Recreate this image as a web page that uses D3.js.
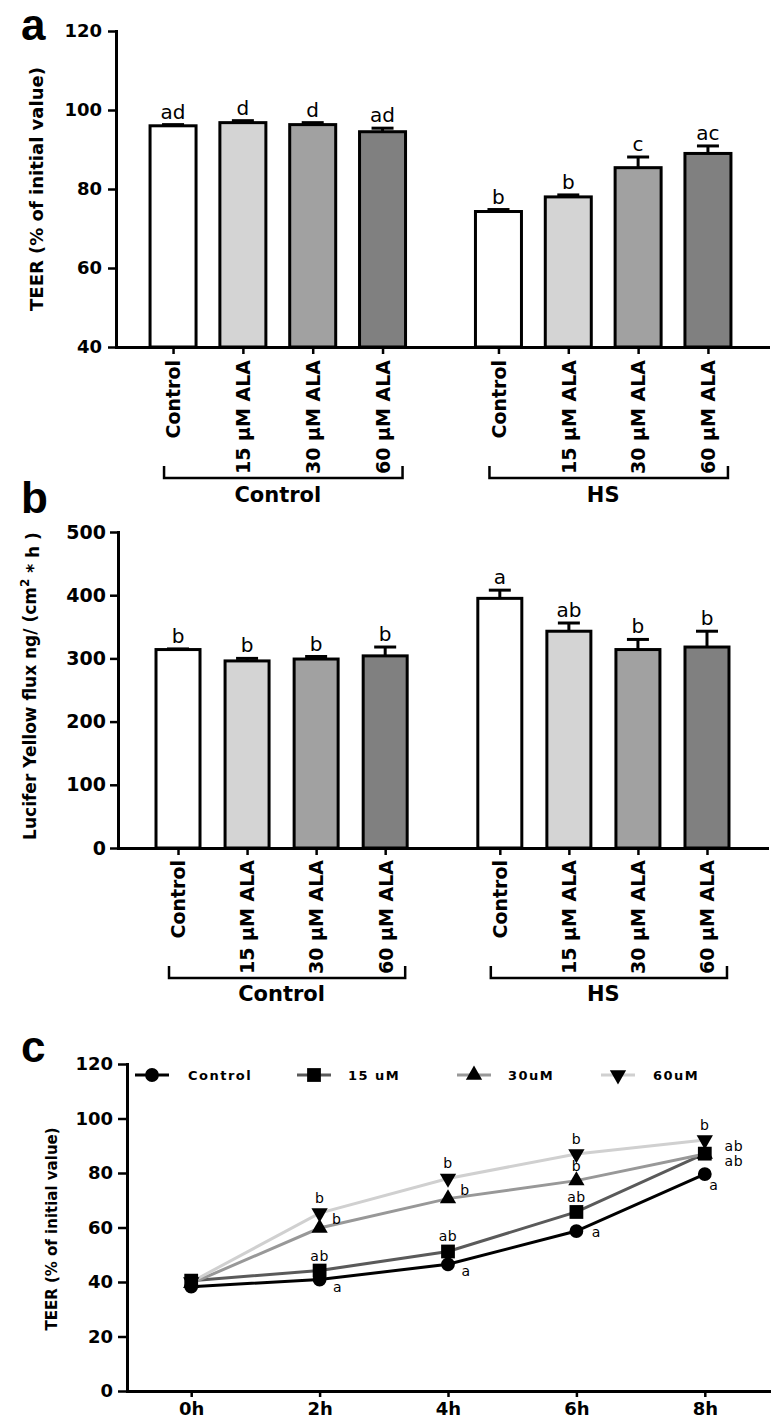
<!DOCTYPE html>
<html><head><meta charset="utf-8">
<script src="https://cdn.jsdelivr.net/npm/d3@7"></script>
<style>
html,body{margin:0;padding:0;background:#fff;}
svg{display:block;}
</style></head><body>
<svg id="chart" width="774" height="1423"></svg>
<script>
// ---------------- DATA ----------------
const groups = ["Control", "HS"];
const treatments = ["Control", "15 µM ALA", "30 µM ALA", "60 µM ALA"];

// panel a: TEER (% of initial value)
const teerMean = [96.0, 96.8, 96.3, 94.5, 74.3, 78.0, 85.4, 89.0];
const teerErr  = [0.3, 0.5, 0.5, 0.9, 0.5, 0.5, 2.7, 1.9];
const teerLetters = ["ad", "d", "d", "ad", "b", "b", "c", "ac"];
const teerTicks = [40, 60, 80, 100, 120];

// panel b: Lucifer Yellow flux
const lyMean = [314, 296, 299, 304, 395, 343, 314, 318];
const lyErr  = [1, 4, 4, 14, 13, 13, 16, 25];
const lyLetters = ["b", "b", "b", "b", "a", "ab", "b", "b"];
const lyTicks = [0, 100, 200, 300, 400, 500];

// panel c: TEER over time
const hours = [0, 2, 4, 6, 8];
const hourLabels = ["0h", "2h", "4h", "6h", "8h"];
const seriesNames = ["Control", "15 uM", "30uM", "60uM"];
const ctrlTeer = [38.3, 40.9, 46.5, 58.7, 79.6];
const um15Teer = [40.5, 44.2, 51.2, 65.7, 87.1];
const um30Teer = [39.5, 59.8, 70.6, 77.2, 87.0];
const um60Teer = [40.0, 65.3, 78.0, 87.0, 92.1];
const ctrlLetters = ["", "a", "a", "a", "a"];
const um15Letters = ["", "ab", "ab", "ab", "ab"];
const um30Letters = ["", "b", "b", "b", "ab"];
const um60Letters = ["", "b", "b", "b", "b"];
const timeTicks = [0, 20, 40, 60, 80, 100, 120];

// ---------------- STYLE / LAYOUT ----------------
const barFills = ["#ffffff", "#d4d4d4", "#a1a1a1", "#808080"];
const lineColors = ["#000000", "#5a5a5a", "#989898", "#d0d0d0"];
const symbolTypes = ["circle", "square", "triangle", "triangleDown"];
const letterPos = [
  ["", "rb", "rb", "r", "b"],
  ["", "t", "t", "t", "rlo"],
  ["", "ur", "ur", "t", "rhi"],
  ["", "t", "t", "t", "t"]
];
const posOffset = {t:[0,-15], rb:[18,7], r:[20,1], b:[9,11], ur:[17,-9], rlo:[29,7], rhi:[29,-8]};

const BOLD = "'DejaVu Sans', sans-serif";
const svg = d3.select("#chart");
const GAP = 0.66;

function styleAxis(sel, fs) {
  sel.select(".domain").attr("stroke", "#000").attr("stroke-width", 3).attr("stroke-linecap", "square");
  sel.selectAll(".tick line").attr("stroke", "#000").attr("stroke-width", 2.5);
  sel.selectAll(".tick text").attr("fill", "#000").style("font-family", BOLD)
     .style("font-weight", "bold").style("font-size", fs + "px");
}

function drawBars(cfg) {
  const g = svg.append("g");
  const x = d3.scaleLinear().domain(cfg.slotDomain).range([cfg.x0, cfg.x1]);
  const y = d3.scaleLinear().domain(cfg.yDomain).range([cfg.yBottom, cfg.yTop]);
  const slots = cfg.means.map((d, i) => (i % 4) + Math.floor(i / 4) * (4 + GAP));

  g.selectAll("rect.bar").data(cfg.means).join("rect").attr("class", "bar")
    .attr("x", (d, i) => x(slots[i]) - cfg.barW / 2)
    .attr("y", d => y(d))
    .attr("width", cfg.barW)
    .attr("height", d => y(cfg.yDomain[0]) - y(d))
    .attr("fill", (d, i) => barFills[i % 4])
    .attr("stroke", "#000").attr("stroke-width", 3);

  const eb = g.selectAll("g.err").data(cfg.means).join("g").attr("class", "err");
  eb.append("line")
    .attr("x1", (d, i) => x(slots[i])).attr("x2", (d, i) => x(slots[i]))
    .attr("y1", d => y(d)).attr("y2", (d, i) => y(d + cfg.errs[i]))
    .attr("stroke", "#000").attr("stroke-width", 3);
  eb.append("line")
    .attr("x1", (d, i) => x(slots[i]) - 11).attr("x2", (d, i) => x(slots[i]) + 11)
    .attr("y1", (d, i) => y(d + cfg.errs[i])).attr("y2", (d, i) => y(d + cfg.errs[i]))
    .attr("stroke", "#000").attr("stroke-width", 3);

  g.selectAll("text.sig").data(cfg.letters).join("text").attr("class", "sig")
    .attr("x", (d, i) => x(slots[i]))
    .attr("y", (d, i) => y(cfg.means[i] + cfg.errs[i]) - 6)
    .attr("text-anchor", "middle")
    .style("font-family", "'DejaVu Sans', sans-serif").style("font-size", "20px")
    .text(d => d);

  const ya = g.append("g").attr("transform", `translate(${cfg.x0},0)`)
    .call(d3.axisLeft(y).tickValues(cfg.ticks).tickSize(8).tickSizeOuter(0).tickPadding(cfg.yPad));
  styleAxis(ya, cfg.yFont);

  const xa = g.append("g").attr("transform", `translate(0,${cfg.yBottom})`)
    .call(d3.axisBottom(x).tickValues(slots).tickFormat((d, i) => treatments[i % 4]).tickSize(7).tickSizeOuter(0));
  styleAxis(xa, 19);
  xa.selectAll(".tick text")
    .attr("transform", "rotate(-90)")
    .attr("text-anchor", "end")
    .attr("x", -cfg.labelGap).attr("y", 0).attr("dy", "0.36em");

  groups.forEach((grp, gi) => {
    const xs = slots.slice(gi * 4, gi * 4 + 4).map(x);
    const l = xs[0] - 9, r = xs[3] + 20;
    g.append("path")
      .attr("d", `M${l},${cfg.bracketTop}V${cfg.bracketBottom}H${r}V${cfg.bracketTop}`)
      .attr("fill", "none").attr("stroke", "#000").attr("stroke-width", 2.5);
    g.append("text")
      .attr("x", (xs[0] + xs[3]) / 2).attr("y", cfg.groupLabelY)
      .attr("text-anchor", "middle")
      .style("font-family", BOLD).style("font-weight", "bold").style("font-size", "21px")
      .text(grp);
  });
  return g;
}

// ---------- Panel a ----------
const ga = drawBars({
  x0: 116, x1: 768, slotDomain: [-0.817, 8.52],
  yBottom: 347, yTop: 31, yDomain: [40, 120], ticks: teerTicks,
  means: teerMean, errs: teerErr, letters: teerLetters,
  barW: 46, labelGap: 13, bracketTop: 466, bracketBottom: 478, groupLabelY: 502,
  yFont: 18, yPad: 6
});
ga.append("text").attr("transform", "translate(43,189) rotate(-90)")
  .attr("text-anchor", "middle")
  .style("font-family", BOLD).style("font-weight", "bold").style("font-size", "18px")
  .text("TEER (% of initial value)");

// ---------- Panel b ----------
const gb = drawBars({
  x0: 118, x1: 767, slotDomain: [-0.869, 8.529],
  yBottom: 848, yTop: 532, yDomain: [0, 500], ticks: lyTicks,
  means: lyMean, errs: lyErr, letters: lyLetters,
  barW: 44, labelGap: 12, bracketTop: 966, bracketBottom: 978, groupLabelY: 1001,
  yFont: 19, yPad: 4
});
const yl = gb.append("text").attr("transform", "translate(36,686) rotate(-90)")
  .attr("text-anchor", "middle")
  .style("font-family", BOLD).style("font-weight", "bold").style("font-size", "17px");
yl.append("tspan").text("Lucifer Yellow flux ng/ (cm");
yl.append("tspan").attr("dy", "-0.55em").style("font-size", "12px").text("2");
yl.append("tspan").attr("dy", "0.55em").text(" * h )");

// ---------- Panel c ----------
const gc = svg.append("g");
const xc = d3.scaleLinear().domain([-1, 9]).range([127, 769]);
const yc = d3.scaleLinear().domain([0, 120]).range([1391, 1064]);
const seriesVals = [ctrlTeer, um15Teer, um30Teer, um60Teer];
const seriesLetters = [ctrlLetters, um15Letters, um30Letters, um60Letters];

function symbolPath(type) {
  if (type === "circle") return d3.symbol().type(d3.symbolCircle).size(150)();
  if (type === "square") return d3.symbol().type(d3.symbolSquare).size(190)();
  return d3.symbol().type(d3.symbolTriangle).size(115)();
}
function symbolTransform(type, px, py) {
  return type === "triangleDown" ? `translate(${px},${py}) rotate(180)` : `translate(${px},${py})`;
}

const line = d3.line().x((d, i) => xc(hours[i])).y(d => yc(d));
seriesVals.forEach((vals, si) => {
  gc.append("path").datum(vals).attr("d", line)
    .attr("fill", "none").attr("stroke", lineColors[si]).attr("stroke-width", 3);
});
seriesVals.forEach((vals, si) => {
  gc.selectAll(null).data(vals).join("path")
    .attr("d", symbolPath(symbolTypes[si]))
    .attr("transform", (d, i) => symbolTransform(symbolTypes[si], xc(hours[i]), yc(d)))
    .attr("fill", "#000");
});
seriesVals.forEach((vals, si) => {
  const items = seriesLetters[si]
    .map((t, i) => ({t, i, v: vals[i], p: letterPos[si][i]}))
    .filter(o => o.t !== "");
  gc.selectAll(null).data(items).join("text")
    .attr("x", o => xc(hours[o.i]) + posOffset[o.p][0])
    .attr("y", o => yc(o.v) + posOffset[o.p][1])
    .attr("text-anchor", "middle").attr("dominant-baseline", "central")
    .style("font-family", "'DejaVu Sans', sans-serif").style("font-size", "14px")
    .style("letter-spacing", "0.5px")
    .text(o => o.t);
});

const yca = gc.append("g").attr("transform", "translate(127,0)")
  .call(d3.axisLeft(yc).tickValues(timeTicks).tickSize(9).tickSizeOuter(0).tickPadding(5));
styleAxis(yca, 18);
const xca = gc.append("g").attr("transform", "translate(0,1391)")
  .call(d3.axisBottom(xc).tickValues(hours).tickFormat((d, i) => hourLabels[i]).tickSize(6).tickSizeOuter(0).tickPadding(5));
styleAxis(xca, 18);

gc.append("text").attr("transform", "translate(57,1229) rotate(-90)")
  .attr("text-anchor", "middle")
  .style("font-family", BOLD).style("font-weight", "bold").style("font-size", "15px")
  .text("TEER (% of initial value)");

// legend
const legMarkerX = [152, 314, 474, 618];
const legTextX = [188, 348, 508, 653];
seriesNames.forEach((nm, si) => {
  const cx = legMarkerX[si], cy = 1075;
  gc.append("line").attr("x1", cx - 17).attr("x2", cx + 17).attr("y1", cy).attr("y2", cy)
    .attr("stroke", lineColors[si]).attr("stroke-width", 3);
  gc.append("path").attr("d", symbolPath(symbolTypes[si]))
    .attr("transform", symbolTransform(symbolTypes[si], cx, cy)).attr("fill", "#000");
  gc.append("text").attr("x", legTextX[si]).attr("y", cy).attr("dominant-baseline", "central")
    .style("font-family", BOLD).style("font-weight", "bold").style("font-size", "13px")
    .style("letter-spacing", "1.5px")
    .text(nm);
});

// panel letters
[["a", 40], ["b", 513], ["c", 1062]].forEach(([t, yy]) => {
  svg.append("text").attr("x", 21).attr("y", yy)
    .style("font-family", "'Liberation Sans', Arial, sans-serif").style("font-weight", "bold")
    .style("font-size", "44px").text(t);
});
</script>
</body></html>
